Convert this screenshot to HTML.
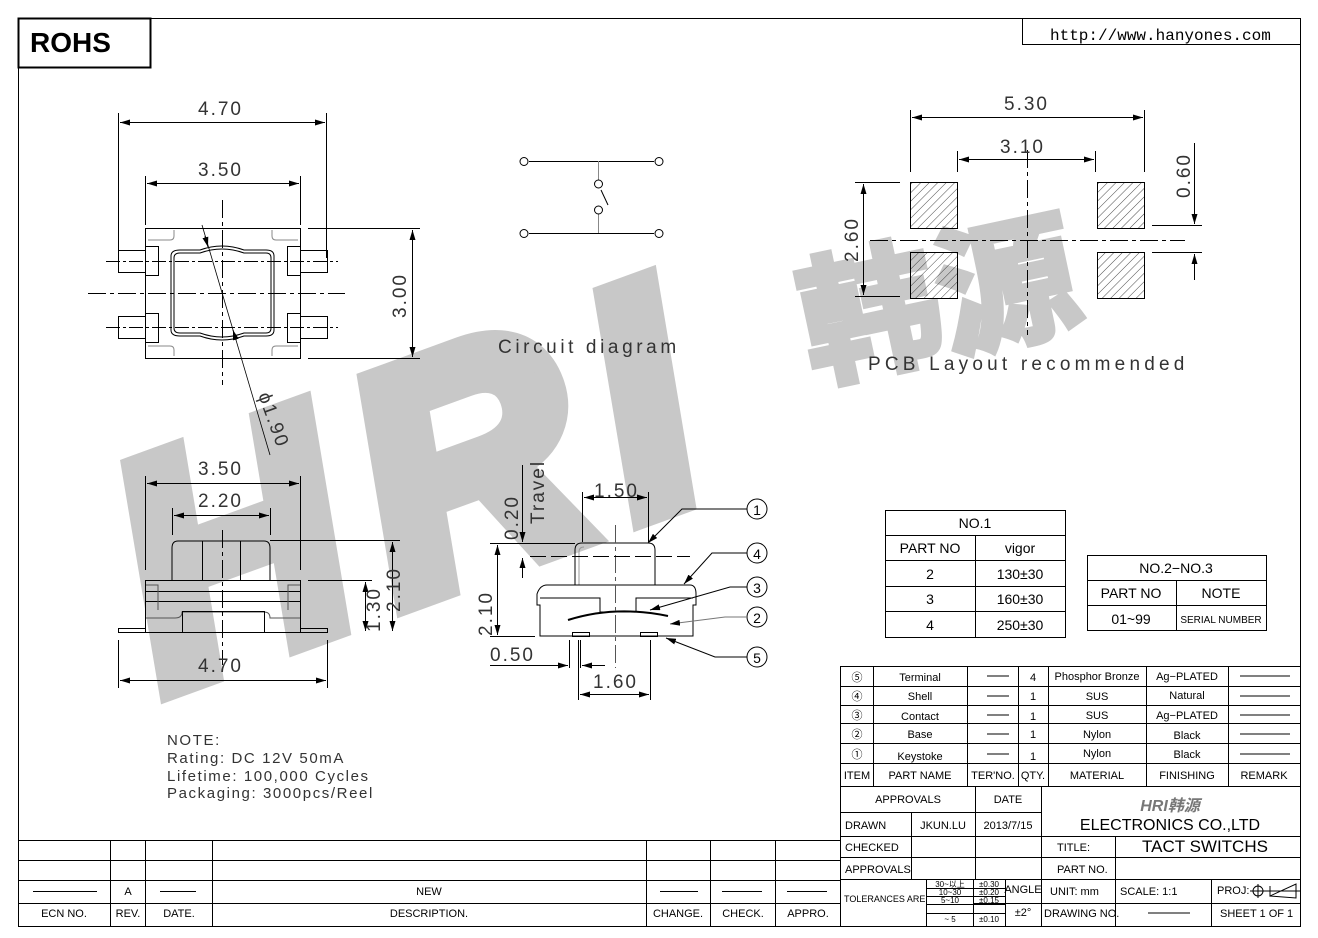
<!DOCTYPE html>
<html><head><meta charset="utf-8"><style>
html,body{margin:0;padding:0;background:#fff}
svg{display:block}
text{font-family:"Liberation Sans","Noto Sans CJK SC",sans-serif;fill:#000}
.t{font-size:11px}
.d{font-size:19px;fill:#333;letter-spacing:2px}
</style></head><body>
<svg width="1318" height="938" viewBox="0 0 1318 938" xmlns="http://www.w3.org/2000/svg">
<defs>
<pattern id="h" width="6" height="6" patternUnits="userSpaceOnUse" patternTransform="rotate(45)"><line x1="0" y1="0" x2="0" y2="6" stroke="#000" stroke-width="0.7"/></pattern>
<marker id="a" markerWidth="10" markerHeight="6" refX="10" refY="3" orient="auto-start-reverse" markerUnits="userSpaceOnUse"><path d="M0,0 L10,3 L0,6z" fill="#000"/></marker>
</defs>
<!-- watermark -->
<text x="0" y="0" font-size="290" font-weight="bold" font-style="italic" letter-spacing="30" style="fill:#c8c8c8;stroke:#c8c8c8;stroke-width:22;stroke-linejoin:miter" transform="translate(165,690) rotate(-20) scale(1.05,1.1)">HRI</text>
<text x="0" y="0" font-size="140" font-weight="bold" style="fill:#c8c8c8;stroke:#c8c8c8;stroke-width:6;font-family:'Noto Sans CJK SC',sans-serif" transform="translate(812,378) rotate(-12)">韩源</text>
<g fill="none" stroke="#000" stroke-width="1">
<rect x="18.5" y="18.5" width="1282" height="908"/>
<rect x="18.5" y="18.5" width="132" height="49" stroke-width="2"/>
<polyline points="1022.5,18 1022.5,44.5 1300,44.5"/>
<rect x="145.5" y="228.5" width="155" height="130"/>
<rect x="118.5" y="250.5" width="27" height="22"/><rect x="118.5" y="316.5" width="27" height="22"/>
<rect x="300.5" y="250.5" width="27" height="22"/><rect x="300.5" y="316.5" width="27" height="22"/>
<rect x="145.5" y="246.5" width="13" height="29"/><rect x="145.5" y="313.5" width="13" height="29"/>
<rect x="287.5" y="246.5" width="13" height="29"/><rect x="287.5" y="313.5" width="13" height="29"/>
<path d="M148,240 H170 Q174,240 174,236 V230 M298,240 H276 Q272,240 272,236 V230 M148,346 H170 Q174,346 174,350 V356 M298,346 H276 Q272,346 272,350 V356" stroke="#888"/>
<path d="M174,258 Q174,253 180,253 H200 Q222,245 244,253 H266 Q271,253 271,258 V328 Q271,333 266,333 H244 Q222,341 200,333 H180 Q174,333 174,328Z"/>
<path d="M171,256 Q171,250 180,250 H200 Q222,242 244,250 H266 Q274,250 274,256 V330 Q274,336 266,336 H244 Q222,344 200,336 H180 Q171,336 171,330Z"/>
<line x1="88" y1="293.5" x2="345" y2="293.5" stroke-dasharray="18,4,4,4"/>
<line x1="222.5" y1="200" x2="222.5" y2="385" stroke-dasharray="18,4,4,4"/>
<line x1="106" y1="261.5" x2="338" y2="261.5" stroke-dasharray="14,3,3,3"/>
<line x1="106" y1="327.5" x2="338" y2="327.5" stroke-dasharray="14,3,3,3"/>
<line x1="202" y1="225" x2="270" y2="455" stroke-width="0.8"/>
<line x1="205" y1="236" x2="208" y2="247" marker-end="url(#a)"/>
<line x1="236" y1="340" x2="233" y2="330" marker-end="url(#a)"/>
<line x1="118.5" y1="113" x2="118.5" y2="258"/><line x1="326.5" y1="113" x2="326.5" y2="258"/>
<line x1="120" y1="122.5" x2="325" y2="122.5" marker-start="url(#a)" marker-end="url(#a)"/>
<line x1="145.5" y1="176" x2="145.5" y2="225"/><line x1="300.5" y1="176" x2="300.5" y2="225"/>
<line x1="147" y1="183.5" x2="299" y2="183.5" marker-start="url(#a)" marker-end="url(#a)"/>
<line x1="308" y1="228.5" x2="420" y2="228.5"/><line x1="308" y1="358.5" x2="420" y2="358.5"/>
<line x1="412.5" y1="230" x2="412.5" y2="357" marker-start="url(#a)" marker-end="url(#a)"/>
<line x1="529" y1="161.5" x2="654" y2="161.5"/><line x1="529" y1="233.5" x2="654" y2="233.5"/>
<line x1="598.5" y1="161" x2="598.5" y2="180" stroke="#888"/><line x1="598.5" y1="214" x2="598.5" y2="233" stroke="#888"/>
<line x1="601" y1="190" x2="608" y2="205"/>
<circle cx="524" cy="161.5" r="4"/><circle cx="659" cy="161.5" r="4"/><circle cx="524" cy="233.5" r="4"/><circle cx="659" cy="233.5" r="4"/>
<circle cx="598.5" cy="184" r="4"/><circle cx="598.5" cy="210" r="4"/>
<rect x="910.5" y="182.5" width="47" height="46" fill="url(#h)"/><rect x="1097.5" y="182.5" width="47" height="46" fill="url(#h)"/>
<rect x="910.5" y="252.5" width="47" height="46" fill="url(#h)"/><rect x="1097.5" y="252.5" width="47" height="46" fill="url(#h)"/>
<line x1="870" y1="240.5" x2="1185" y2="240.5" stroke-dasharray="18,4,4,4"/>
<line x1="1027.5" y1="150" x2="1027.5" y2="335" stroke-dasharray="18,4,4,4"/>
<line x1="910.5" y1="110" x2="910.5" y2="172"/><line x1="1144.5" y1="110" x2="1144.5" y2="172"/>
<line x1="912" y1="117.5" x2="1143" y2="117.5" marker-start="url(#a)" marker-end="url(#a)"/>
<line x1="957.5" y1="151" x2="957.5" y2="172"/><line x1="1095.5" y1="151" x2="1095.5" y2="172"/>
<line x1="959" y1="159.5" x2="1094" y2="159.5" marker-start="url(#a)" marker-end="url(#a)"/>
<line x1="855" y1="182.5" x2="900" y2="182.5"/><line x1="855" y1="296.5" x2="900" y2="296.5"/>
<line x1="863.5" y1="184" x2="863.5" y2="295" marker-start="url(#a)" marker-end="url(#a)"/>
<line x1="1152" y1="225.5" x2="1202" y2="225.5"/><line x1="1152" y1="252.5" x2="1202" y2="252.5"/>
<line x1="1194.5" y1="143" x2="1194.5" y2="224" marker-end="url(#a)"/><line x1="1194.5" y1="280" x2="1194.5" y2="254" marker-end="url(#a)"/>
<line x1="118" y1="632.5" x2="327" y2="632.5"/>
<rect x="118.5" y="628.5" width="27" height="4"/><rect x="300.5" y="628.5" width="27" height="4"/>
<rect x="145.5" y="580.5" width="155" height="52"/>
<path d="M172,580 V548 Q172,541 178,541 H264 Q270,541 270,548 V580"/>
<line x1="202.5" y1="541" x2="202.5" y2="580"/><line x1="240.5" y1="541" x2="240.5" y2="580"/>
<line x1="146" y1="591.5" x2="300" y2="591.5"/><line x1="146" y1="601.5" x2="300" y2="601.5"/>
<path d="M146,585 H158 V610 M300,585 H288 V610" stroke="#555"/>
<path d="M146,618 H175 Q182,618 182,612 H264 Q270,612 270,618 H300" stroke="#555"/>
<rect x="182.5" y="611.5" width="82" height="21"/>
<line x1="222.5" y1="530" x2="222.5" y2="665" stroke-dasharray="18,4,4,4"/>
<line x1="145.5" y1="476" x2="145.5" y2="570"/><line x1="300.5" y1="476" x2="300.5" y2="570"/>
<line x1="147" y1="483.5" x2="299" y2="483.5" marker-start="url(#a)" marker-end="url(#a)"/>
<line x1="172.5" y1="508" x2="172.5" y2="535"/><line x1="270.5" y1="508" x2="270.5" y2="535"/>
<line x1="174" y1="515.5" x2="269" y2="515.5" marker-start="url(#a)" marker-end="url(#a)"/>
<line x1="118.5" y1="640" x2="118.5" y2="688"/><line x1="327.5" y1="640" x2="327.5" y2="688"/>
<line x1="120" y1="680.5" x2="326" y2="680.5" marker-start="url(#a)" marker-end="url(#a)"/>
<line x1="270" y1="540.5" x2="400" y2="540.5"/><line x1="308" y1="580.5" x2="372" y2="580.5"/>
<line x1="392.5" y1="542" x2="392.5" y2="631" marker-start="url(#a)" marker-end="url(#a)"/>
<line x1="365.5" y1="582" x2="365.5" y2="631" marker-start="url(#a)" marker-end="url(#a)"/>
<path d="M575,585 V550 Q575,543 582,543 H648 Q655,543 655,550 V585" />
<path d="M579,585 V552 Q579,547 584,547" stroke="#999"/>
<path d="M537,594 Q540,585 547,585 H690 Q696,585 696,594 V605 H693 V636 H540 V605 H537Z"/>
<path d="M540,598 H600 V612 H636 V598 H693" />
<rect x="572.5" y="632.5" width="17" height="4"/><rect x="640.5" y="632.5" width="17" height="4"/>
<path d="M568,620 Q615,605 668,616" stroke-width="2"/>
<line x1="615.5" y1="525" x2="615.5" y2="668" stroke-dasharray="18,4,4,4" stroke="#555"/>
<line x1="530" y1="556.5" x2="690" y2="556.5" stroke-dasharray="16,5"/>
<line x1="490" y1="543.5" x2="575" y2="543.5"/><line x1="490" y1="636.5" x2="535" y2="636.5"/>
<line x1="497.5" y1="545" x2="497.5" y2="635" marker-start="url(#a)" marker-end="url(#a)"/>
<line x1="522.5" y1="465" x2="522.5" y2="542" marker-end="url(#a)"/><line x1="522.5" y1="578" x2="522.5" y2="558" marker-end="url(#a)"/>
<line x1="582.5" y1="492" x2="582.5" y2="542"/><line x1="648.5" y1="492" x2="648.5" y2="542"/>
<line x1="584" y1="497.5" x2="647" y2="497.5" marker-start="url(#a)" marker-end="url(#a)"/>
<line x1="569.5" y1="640" x2="569.5" y2="668"/><line x1="580.5" y1="640" x2="580.5" y2="668"/>
<line x1="490" y1="665.5" x2="568" y2="665.5" marker-end="url(#a)"/><line x1="605" y1="665.5" x2="582" y2="665.5" marker-end="url(#a)"/>
<line x1="578.5" y1="640" x2="578.5" y2="700"/><line x1="650.5" y1="640" x2="650.5" y2="700"/>
<line x1="580" y1="694.5" x2="649" y2="694.5" marker-start="url(#a)" marker-end="url(#a)"/>
<circle cx="757" cy="509" r="10"/><circle cx="757" cy="553" r="10"/><circle cx="757" cy="587" r="10"/><circle cx="757" cy="617" r="10"/><circle cx="757" cy="657" r="10"/>
<polyline points="747,509 682,509 648,543" marker-end="url(#a)"/>
<polyline points="747,553 712,553 684,584" marker-end="url(#a)"/>
<polyline points="747,587 730,587 650,610" marker-end="url(#a)"/>
<polyline points="747,617 725,617 670,624" marker-end="url(#a)" stroke="#777"/>
<polyline points="747,657 715,657 666,638" marker-end="url(#a)"/>
<rect x="885.5" y="510.5" width="180" height="127"/>
<path d="M885,535.5 H1065 M885,560.5 H1065 M885,586.5 H1065 M885,611.5 H1065 M975.5,535 V637"/>
<rect x="1087.5" y="555.5" width="179" height="75"/>
<path d="M1087,580.5 H1266 M1087,605.5 H1266 M1176.5,580 V630"/>
<path d="M18,840.5 H840 M18,860.5 H840 M18,880.5 H840 M18,903.5 H840 M110.5,840 V927 M145.5,840 V927 M212.5,840 V927 M646.5,840 V927 M710.5,840 V927 M775.5,840 V927"/>
<path d="M33,891.5 H97 M160,891.5 H196 M722,891.5 H762 M787,891.5 H827 M660,891.5 H698"/>
<path d="M840.5,666 V927 M840,666.5 H1300 M840,686.5 H1300 M840,705.5 H1300 M840,723.5 H1300 M840,743.5 H1300 M840,763.5 H1300 M840,786.5 H1300"/>
<path d="M873.5,666 V786 M967.5,666 V786 M1018.5,666 V786 M1048.5,666 V786 M1146.5,666 V786 M1228.5,666 V786"/>
<path d="M840,812.5 H1041 M840,836.5 H1300 M840,857.5 H1300 M840,879.5 H1300"/>
<path d="M975.5,786 V880 M911.5,812 V880 M1041.5,786 V927 M1115.5,836 V880"/>
<path d="M926.5,880 V927 M973.5,880 V927 M1005.5,880 V927 M1115.5,880 V927 M1211.5,880 V927 M926,888.5 H1005 M926,896.5 H1005 M926,904.5 H1005 M926,913.5 H1005 M973,903.5 H1041 M1041,903.5 H1300"/>
<path d="M987,676 H1009 M987,696 H1009 M987,715 H1009 M987,734 H1009 M987,754 H1009 M1240,676 H1290 M1240,696 H1290 M1240,715 H1290 M1240,734 H1290 M1240,754 H1290 M1148,913 H1190"/>
<circle cx="1258" cy="891" r="5"/><path d="M1250,891 H1300 M1258,884 V898 M1270,886 V896 L1296,884 V898 L1270,896"/>
</g>
<text x="30" y="52" font-size="28" font-weight="bold">ROHS</text>
<text x="1050" y="40" font-size="16" style="font-family:'Liberation Mono',monospace">http://www.hanyones.com</text>
<g class="d">
<text x="198" y="115" class="d">4.70</text>
<text x="198" y="176" class="d">3.50</text>
<text x="0" y="0" class="d" transform="translate(406,318) rotate(-90)">3.00</text>
<text x="0" y="0" class="d" transform="translate(258,395) rotate(70)">ϕ1.90</text>
<text x="498" y="353" class="d" style="letter-spacing:3.6px">Circuit  diagram</text>
<text x="1004" y="110" class="d">5.30</text>
<text x="1000" y="153" class="d">3.10</text>
<text x="0" y="0" class="d" transform="translate(1190,198) rotate(-90)">0.60</text>
<text x="0" y="0" class="d" transform="translate(858,262) rotate(-90)">2.60</text>
<text x="868" y="370" class="d" style="letter-spacing:4.2px">PCB  Layout  recommended</text>
<text x="198" y="475" class="d">3.50</text>
<text x="198" y="507" class="d">2.20</text>
<text x="198" y="672" class="d">4.70</text>
<text x="0" y="0" class="d" transform="translate(400,612) rotate(-90)">2.10</text>
<text x="0" y="0" class="d" transform="translate(380,632) rotate(-90)">1.30</text>
<text x="0" y="0" class="d" transform="translate(518,540) rotate(-90)">0.20</text>
<text x="0" y="0" class="d" transform="translate(544,524) rotate(-90)">Travel</text>
<text x="594" y="497" class="d">1.50</text>
<text x="0" y="0" class="d" transform="translate(492,636) rotate(-90)">2.10</text>
<text x="490" y="661" class="d">0.50</text>
<text x="593" y="688" class="d">1.60</text>
</g>
<g style="letter-spacing:1.6px">
<text x="167" y="745" font-size="15" style="fill:#333">NOTE:</text>
<text x="167" y="763" font-size="15" style="fill:#333">Rating: DC 12V 50mA</text>
<text x="167" y="781" font-size="15" style="fill:#333">Lifetime: 100,000 Cycles</text>
<text x="167" y="798" font-size="15" style="fill:#333">Packaging: 3000pcs/Reel</text>
</g>
<g font-size="14" text-anchor="middle">
<text x="757" y="515">1</text><text x="757" y="559">4</text><text x="757" y="593">3</text><text x="757" y="623">2</text><text x="757" y="663">5</text>
<text x="975" y="528">NO.1</text>
<text x="930" y="553">PART NO</text><text x="1020" y="553">vigor</text>
<text x="930" y="579">2</text><text x="1020" y="579">130±30</text>
<text x="930" y="604">3</text><text x="1020" y="604">160±30</text>
<text x="930" y="630">4</text><text x="1020" y="630">250±30</text>
<text x="1176" y="573">NO.2−NO.3</text>
<text x="1131" y="598">PART NO</text><text x="1221" y="598">NOTE</text>
<text x="1131" y="624">01~99</text><text x="1221" y="623" font-size="10">SERIAL NUMBER</text>
</g>
<g class="t" text-anchor="middle">
<text x="64" y="917">ECN NO.</text><text x="128" y="917">REV.</text><text x="179" y="917">DATE.</text><text x="429" y="917">DESCRIPTION.</text><text x="678" y="917">CHANGE.</text><text x="743" y="917">CHECK.</text><text x="808" y="917">APPRO.</text>
<text x="128" y="895">A</text><text x="429" y="895">NEW</text>
<text x="857" y="681">⑤</text><text x="857" y="700">④</text><text x="857" y="719">③</text><text x="857" y="738">②</text><text x="857" y="758">①</text>
<text x="920" y="681">Terminal</text><text x="920" y="700">Shell</text><text x="920" y="720">Contact</text><text x="920" y="738">Base</text><text x="920" y="760">Keystoke</text>
<text x="1033" y="681">4</text><text x="1033" y="700">1</text><text x="1033" y="720">1</text><text x="1033" y="738">1</text><text x="1033" y="760">1</text>
<text x="1097" y="680">Phosphor Bronze</text><text x="1097" y="700">SUS</text><text x="1097" y="719">SUS</text><text x="1097" y="738">Nylon</text><text x="1097" y="757">Nylon</text>
<text x="1187" y="680">Ag−PLATED</text><text x="1187" y="699">Natural</text><text x="1187" y="719">Ag−PLATED</text><text x="1187" y="739">Black</text><text x="1187" y="758">Black</text>
<text x="857" y="779">ITEM</text><text x="920" y="779">PART NAME</text><text x="993" y="779">TER'NO.</text><text x="1033" y="779">QTY.</text><text x="1097" y="779">MATERIAL</text><text x="1187" y="779">FINISHING</text><text x="1264" y="779">REMARK</text>
<text x="908" y="803">APPROVALS</text><text x="1008" y="803">DATE</text>
<text x="943" y="829">JKUN.LU</text><text x="1008" y="829">2013/7/15</text>
<text x="1170" y="811" font-size="16" font-weight="bold" font-style="italic" style="fill:#777">HRI韩源</text>
<text x="1170" y="830" font-size="16">ELECTRONICS CO.,LTD</text>
<text x="1205" y="852" font-size="17">TACT  SWITCHS</text>
<text x="1023" y="893">ANGLE</text><text x="1023" y="916">±2°</text>
<text x="950" y="887" font-size="8">30~以上</text><text x="950" y="895" font-size="8">10~30</text><text x="950" y="903" font-size="8">5~10</text><text x="950" y="922" font-size="8">~ 5</text>
<text x="989" y="887" font-size="8">±0.30</text><text x="989" y="895" font-size="8">±0.20</text><text x="989" y="903" font-size="8">±0.15</text><text x="989" y="922" font-size="8">±0.10</text>
</g>
<g class="t">
<text x="845" y="829">DRAWN</text><text x="845" y="851">CHECKED</text><text x="845" y="873">APPROVALS</text>
<text x="844" y="902" font-size="9">TOLERANCES ARE</text>
<text x="1057" y="851">TITLE:</text><text x="1057" y="873">PART NO.</text>
<text x="1050" y="895">UNIT:  mm</text><text x="1120" y="895">SCALE:    1:1</text><text x="1217" y="894">PROJ:</text>
<text x="1044" y="917">DRAWING NO.</text><text x="1220" y="917">SHEET   1 OF 1</text>
</g>
</svg>
</body></html>
